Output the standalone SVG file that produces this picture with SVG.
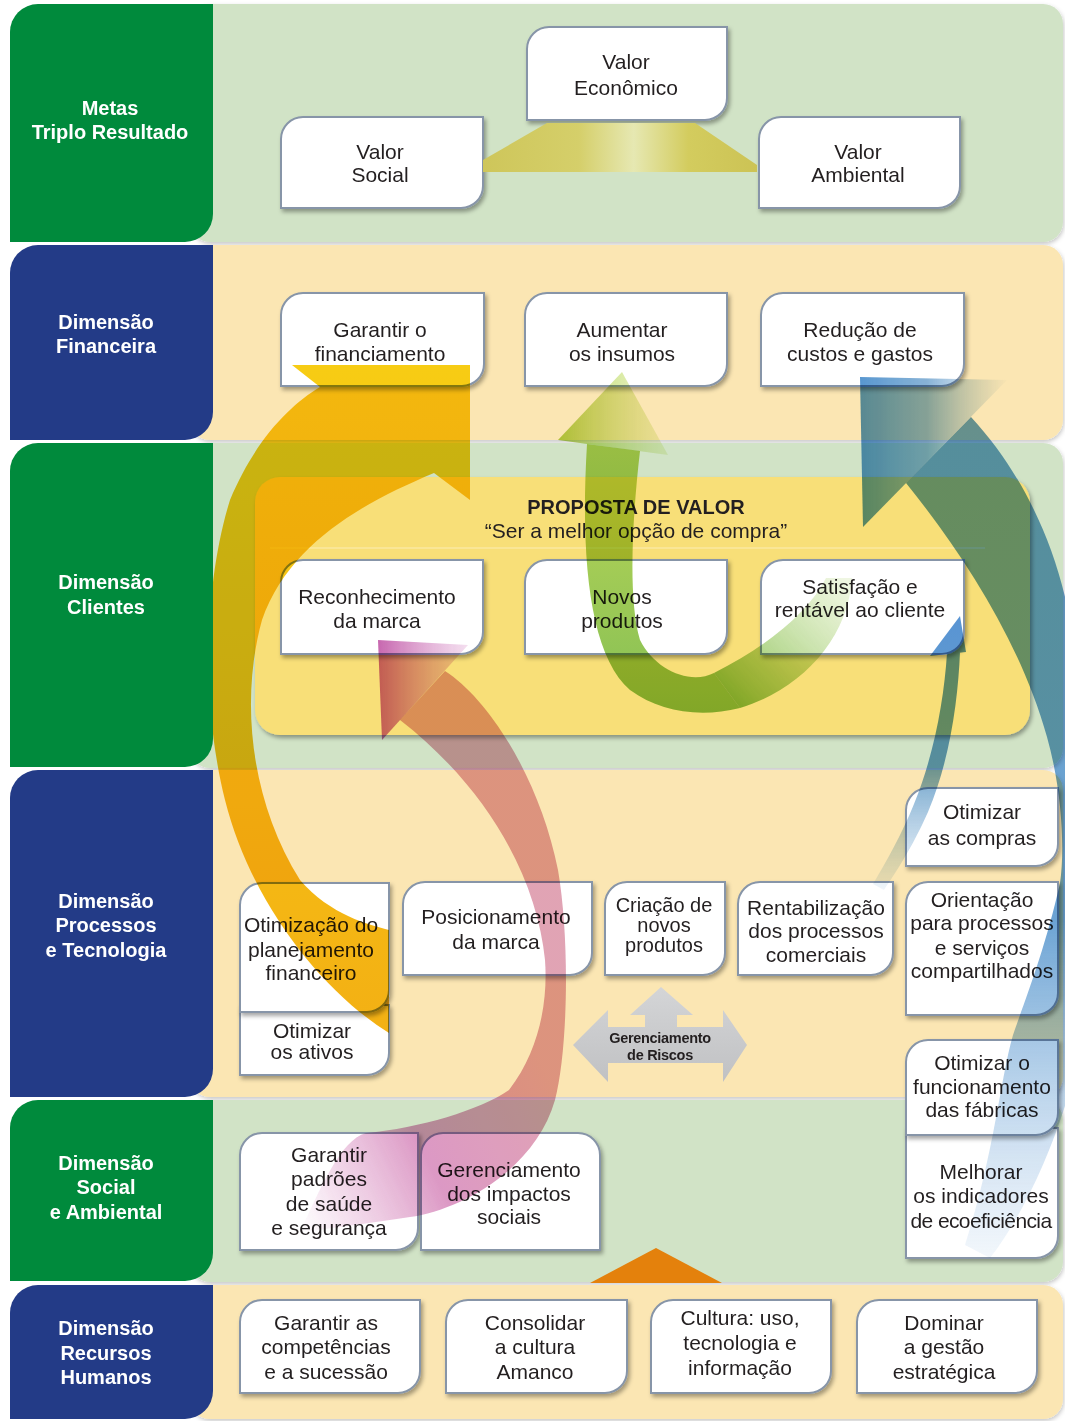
<svg xmlns="http://www.w3.org/2000/svg" width="1065" height="1421" viewBox="0 0 1065 1421">
<defs>
<filter id="sh" x="-10%" y="-10%" width="125%" height="130%"><feDropShadow dx="2" dy="3" stdDeviation="2" flood-color="#000" flood-opacity="0.35"/></filter>
<filter id="bsh" x="-5%" y="-5%" width="110%" height="115%"><feDropShadow dx="1" dy="2" stdDeviation="2" flood-color="#000" flood-opacity="0.22"/></filter>
<linearGradient id="gT" x1="483" y1="0" x2="757" y2="0" gradientUnits="userSpaceOnUse">
<stop offset="0" stop-color="#cec65a"/><stop offset="0.35" stop-color="#d5cf6a"/><stop offset="0.55" stop-color="#e6e8b2"/><stop offset="0.75" stop-color="#d3cc5e"/><stop offset="1" stop-color="#ccc355"/>
</linearGradient>
<linearGradient id="gY" x1="0" y1="365" x2="0" y2="1033" gradientUnits="userSpaceOnUse">
<stop offset="0" stop-color="#f7c800"/><stop offset="0.5" stop-color="#f5ba00"/><stop offset="1" stop-color="#f2aa00"/>
</linearGradient>
<linearGradient id="gG" x1="0" y1="372" x2="0" y2="712" gradientUnits="userSpaceOnUse">
<stop offset="0" stop-color="#c4da48"/><stop offset="1" stop-color="#7cba46"/>
</linearGradient>
<linearGradient id="gGh" x1="558" y1="0" x2="670" y2="0" gradientUnits="userSpaceOnUse">
<stop offset="0" stop-color="#a9cf3c"/><stop offset="1" stop-color="#d4e78a" stop-opacity="0.35"/>
</linearGradient>
<linearGradient id="gGt" x1="735" y1="700" x2="845" y2="580" gradientUnits="userSpaceOnUse">
<stop offset="0" stop-color="#7cba46"/><stop offset="1" stop-color="#b8d880" stop-opacity="0.25"/>
</linearGradient>
<linearGradient id="gBh" x1="860" y1="0" x2="1010" y2="0" gradientUnits="userSpaceOnUse">
<stop offset="0" stop-color="#4a8ecc"/><stop offset="0.45" stop-color="#5e98c8" stop-opacity="0.8"/><stop offset="1" stop-color="#8fb6d8" stop-opacity="0"/>
</linearGradient>
<linearGradient id="gB" x1="0" y1="420" x2="0" y2="1255" gradientUnits="userSpaceOnUse">
<stop offset="0" stop-color="#5b98c4"/><stop offset="0.6" stop-color="#5f9bd0"/><stop offset="1" stop-color="#9cc0e4" stop-opacity="0.15"/>
</linearGradient>
<linearGradient id="gBs" x1="0" y1="616" x2="0" y2="890" gradientUnits="userSpaceOnUse">
<stop offset="0" stop-color="#4a8bd0"/><stop offset="0.55" stop-color="#5e98c4"/><stop offset="1" stop-color="#a8c8e4" stop-opacity="0.2"/>
</linearGradient>
<linearGradient id="gPh" x1="378" y1="0" x2="470" y2="0" gradientUnits="userSpaceOnUse">
<stop offset="0" stop-color="#c25aa8"/><stop offset="1" stop-color="#d890c8" stop-opacity="0.3"/>
</linearGradient>
<linearGradient id="gP" x1="300" y1="1230" x2="560" y2="1100" gradientUnits="userSpaceOnUse">
<stop offset="0" stop-color="#d27ab8" stop-opacity="0"/><stop offset="0.5" stop-color="#cc6aaa" stop-opacity="0.75"/><stop offset="1" stop-color="#d27a92" stop-opacity="0.75"/>
</linearGradient>
<linearGradient id="gR" x1="0" y1="987" x2="0" y2="1082" gradientUnits="userSpaceOnUse">
<stop offset="0" stop-color="#d4d5d7"/><stop offset="1" stop-color="#c0c1c3"/>
</linearGradient>
</defs>
<style>
.bg-g{fill:#d1e3c6;filter:url(#bsh)}
.bg-y{fill:#fbe6b3;filter:url(#bsh)}
.lab-g{fill:#008a3c}
.lab-b{fill:#233b87}
.lt{font-family:"Liberation Sans",Arial,sans-serif;font-weight:bold;font-size:20px;fill:#ffffff;text-anchor:middle}
.box{fill:#ffffff;stroke:#8795a8;stroke-width:2;filter:url(#sh)}
.t{font-family:"Liberation Sans",Arial,sans-serif;font-size:21px;fill:#231f20;text-anchor:middle}
.arrow{mix-blend-mode:multiply;opacity:0.92}
</style>
<rect width="1065" height="1421" fill="#ffffff"/>

<g id="bands">
<rect class="bg-g" x="190" y="4" width="873" height="238" rx="20"/>
<rect class="bg-y" x="190" y="245" width="873" height="195" rx="20"/>
<rect class="bg-g" x="190" y="443" width="873" height="325" rx="20"/>
<rect class="bg-y" x="190" y="770" width="873" height="327" rx="20"/>
<rect class="bg-g" x="190" y="1100" width="873" height="182" rx="20"/>
<rect class="bg-y" x="190" y="1285" width="873" height="134" rx="20"/>
</g>

<g id="proposta">
<rect x="255" y="477" width="775" height="258" rx="25" fill="#f8df78" filter="url(#sh)"/>
<line x1="270" y1="548" x2="985" y2="548" stroke="#fbe9a0" stroke-width="1.5"/>
<text class="t" x="636" y="514" style="font-weight:bold;font-size:20px">PROPOSTA DE VALOR</text>
<text class="t" x="636" y="538">“Ser a melhor opção de compra”</text>
</g>

<g id="n-valor-economico"><path class="box" d="M549,27 H727 V98 A22,22 0 0 1 705,120 H527 V49 A22,22 0 0 1 549,27 Z"/><text class="t"><tspan x="626" y="69">Valor</tspan><tspan x="626" y="95">Econômico</tspan></text></g>
<g id="n-valor-social"><path class="box" d="M303,117 H483 V186 A22,22 0 0 1 461,208 H281 V139 A22,22 0 0 1 303,117 Z"/><text class="t"><tspan x="380" y="159">Valor</tspan><tspan x="380" y="182">Social</tspan></text></g>
<g id="n-valor-ambiental"><path class="box" d="M781,117 H960 V186 A22,22 0 0 1 938,208 H759 V139 A22,22 0 0 1 781,117 Z"/><text class="t"><tspan x="858" y="159">Valor</tspan><tspan x="858" y="182">Ambiental</tspan></text></g>

<g id="n-garantir-financiamento"><path class="box" d="M303,293 H484 V364 A22,22 0 0 1 462,386 H281 V315 A22,22 0 0 1 303,293 Z"/><text class="t"><tspan x="380" y="337">Garantir o</tspan><tspan x="380" y="361">financiamento</tspan></text></g>
<g id="n-aumentar-insumos"><path class="box" d="M547,293 H727 V364 A22,22 0 0 1 705,386 H525 V315 A22,22 0 0 1 547,293 Z"/><text class="t"><tspan x="622" y="337">Aumentar</tspan><tspan x="622" y="361">os insumos</tspan></text></g>
<g id="n-reducao-custos"><path class="box" d="M783,293 H964 V364 A22,22 0 0 1 942,386 H761 V315 A22,22 0 0 1 783,293 Z"/><text class="t"><tspan x="860" y="337">Redução de</tspan><tspan x="860" y="361">custos e gastos</tspan></text></g>

<g id="n-reconhecimento"><path class="box" d="M303,560 H483 V632 A22,22 0 0 1 461,654 H281 V582 A22,22 0 0 1 303,560 Z"/><text class="t"><tspan x="377" y="604">Reconhecimento</tspan><tspan x="377" y="628">da marca</tspan></text></g>
<g id="n-novos-produtos"><path class="box" d="M547,560 H727 V632 A22,22 0 0 1 705,654 H525 V582 A22,22 0 0 1 547,560 Z"/><text class="t"><tspan x="622" y="604">Novos</tspan><tspan x="622" y="628">produtos</tspan></text></g>
<g id="n-satisfacao"><path class="box" d="M783,560 H964 V632 A22,22 0 0 1 942,654 H761 V582 A22,22 0 0 1 783,560 Z"/><text class="t"><tspan x="860" y="594">Satisfação e</tspan><tspan x="860" y="617">rentável ao cliente</tspan></text></g>

<g id="n-otimizar-ativos"><path class="box" d="M240,1005 H389 V1053 A22,22 0 0 1 367,1075 H240 Z"/><text class="t"><tspan x="312" y="1038">Otimizar</tspan><tspan x="312" y="1059">os ativos</tspan></text></g>
<g id="n-otimizacao-planejamento"><path class="box" d="M262,883 H389 V990 A22,22 0 0 1 367,1012 H240 V905 A22,22 0 0 1 262,883 Z"/><text class="t"><tspan x="311" y="932">Otimização do</tspan><tspan x="311" y="957">planejamento</tspan><tspan x="311" y="980">financeiro</tspan></text></g>
<g id="n-posicionamento"><path class="box" d="M425,882 H592 V953 A22,22 0 0 1 570,975 H403 V904 A22,22 0 0 1 425,882 Z"/><text class="t"><tspan x="496" y="924">Posicionamento</tspan><tspan x="496" y="949">da marca</tspan></text></g>
<g id="n-criacao-produtos"><path class="box" d="M627,882 H725 V953 A22,22 0 0 1 703,975 H605 V904 A22,22 0 0 1 627,882 Z"/><text class="t" style="font-size:20px"><tspan x="664" y="912">Criação de</tspan><tspan x="664" y="932">novos</tspan><tspan x="664" y="952">produtos</tspan></text></g>
<g id="n-rentabilizacao"><path class="box" d="M760,882 H893 V953 A22,22 0 0 1 871,975 H738 V904 A22,22 0 0 1 760,882 Z"/><text class="t"><tspan x="816" y="915">Rentabilização</tspan><tspan x="816" y="938">dos processos</tspan><tspan x="816" y="962">comerciais</tspan></text></g>
<g id="n-otimizar-compras"><path class="box" d="M928,788 H1058 V844 A22,22 0 0 1 1036,866 H906 V810 A22,22 0 0 1 928,788 Z"/><text class="t"><tspan x="982" y="819">Otimizar</tspan><tspan x="982" y="845">as compras</tspan></text></g>
<g id="n-orientacao"><path class="box" d="M928,882 H1058 V993 A22,22 0 0 1 1036,1015 H906 V904 A22,22 0 0 1 928,882 Z"/><text class="t"><tspan x="982" y="907">Orientação</tspan><tspan x="982" y="930">para processos</tspan><tspan x="982" y="955">e serviços</tspan><tspan x="982" y="978">compartilhados</tspan></text></g>
<g id="n-melhorar-indicadores"><path class="box" d="M906,1128 H1058 V1236 A22,22 0 0 1 1036,1258 H906 Z"/><text class="t"><tspan x="981" y="1179">Melhorar</tspan><tspan x="981" y="1203">os indicadores</tspan><tspan x="981" y="1228" letter-spacing="-0.6">de ecoeficiência</tspan></text></g>
<g id="n-otimizar-fabricas"><path class="box" d="M928,1040 H1058 V1113 A22,22 0 0 1 1036,1135 H906 V1062 A22,22 0 0 1 928,1040 Z"/><text class="t"><tspan x="982" y="1070">Otimizar o</tspan><tspan x="982" y="1094">funcionamento</tspan><tspan x="982" y="1117">das fábricas</tspan></text></g>

<g id="n-garantir-padroes"><path class="box" d="M262,1133 H418 V1228 A22,22 0 0 1 396,1250 H240 V1155 A22,22 0 0 1 262,1133 Z"/><text class="t"><tspan x="329" y="1162">Garantir</tspan><tspan x="329" y="1186">padrões</tspan><tspan x="329" y="1211">de saúde</tspan><tspan x="329" y="1235">e segurança</tspan></text></g>
<g id="n-gerenciamento-impactos"><path class="box" d="M443,1133 H578 A22,22 0 0 1 600,1155 V1250 H421 V1155 A22,22 0 0 1 443,1133 Z"/><text class="t"><tspan x="509" y="1177">Gerenciamento</tspan><tspan x="509" y="1201">dos impactos</tspan><tspan x="509" y="1224">sociais</tspan></text></g>

<g id="n-garantir-competencias"><path class="box" d="M262,1300 H420 V1371 A22,22 0 0 1 398,1393 H240 V1322 A22,22 0 0 1 262,1300 Z"/><text class="t"><tspan x="326" y="1330">Garantir as</tspan><tspan x="326" y="1354">competências</tspan><tspan x="326" y="1379">e a sucessão</tspan></text></g>
<g id="n-consolidar-cultura"><path class="box" d="M468,1300 H627 V1371 A22,22 0 0 1 605,1393 H446 V1322 A22,22 0 0 1 468,1300 Z"/><text class="t"><tspan x="535" y="1330">Consolidar</tspan><tspan x="535" y="1354">a cultura</tspan><tspan x="535" y="1379">Amanco</tspan></text></g>
<g id="n-cultura-uso"><path class="box" d="M673,1300 H831 V1371 A22,22 0 0 1 809,1393 H651 V1322 A22,22 0 0 1 673,1300 Z"/><text class="t"><tspan x="740" y="1325">Cultura: uso,</tspan><tspan x="740" y="1350">tecnologia e</tspan><tspan x="740" y="1375">informação</tspan></text></g>
<g id="n-dominar-gestao"><path class="box" d="M879,1300 H1037 V1371 A22,22 0 0 1 1015,1393 H857 V1322 A22,22 0 0 1 879,1300 Z"/><text class="t"><tspan x="944" y="1330">Dominar</tspan><tspan x="944" y="1354">a gestão</tspan><tspan x="944" y="1379">estratégica</tspan></text></g>

<g id="n-gerenciamento-riscos">
<path d="M573,1045 L608,1010 L608,1027 L645,1027 L645,1015 L630,1015 L661,987 L693,1015 L677,1015 L677,1027 L723,1027 L723,1010 L747,1045 L723,1082 L723,1063 L608,1063 L608,1082 Z" fill="url(#gR)"/>
<text class="t" style="font-size:14.5px;font-weight:bold;letter-spacing:-0.3px"><tspan x="660" y="1043">Gerenciamento</tspan><tspan x="660" y="1060">de Riscos</tspan></text>
</g>

<g id="connectors">
<polygon points="483,160 547,123 695,123 757,165 757,172 483,172" fill="url(#gT)"/>
<polygon points="590,1283 656,1248 722,1283" fill="#e4810c"/>
<path class="arrow" fill="url(#gY)" d="M470,365 L470,500 L434,473 C370,500 290,540 262,620 C240,700 250,800 300,880 C330,915 370,925 389,930 L389,1033 C320,990 250,900 225,800 C200,700 205,580 230,500 C255,440 290,405 320,387 L292,365 Z"/>
<path class="arrow" fill="url(#gGh)" d="M622,372 L668,455 L558,440 Z"/>
<path class="arrow" fill="url(#gG)" d="M587,444 L640,451 C632,520 628,600 640,640 C655,670 690,685 714,673 L740,708 C700,718 660,712 630,690 C590,655 580,560 587,444 Z"/>
<path class="arrow" fill="url(#gGt)" d="M714,673 C770,645 810,610 826,578 L852,578 C848,640 800,690 740,708 Z"/>
<path class="arrow" fill="url(#gBh)" d="M860,377 L1007,380 L863,527 Z"/>
<path class="arrow" fill="url(#gB)" d="M971,417 C1020,470 1055,540 1070,620 L1090,1000 C1075,1100 1035,1200 990,1258 L965,1245 C995,1150 1000,1080 1013,1035 C1025,1000 1045,950 1060,883 C1065,850 1062,790 1047,737 C1020,640 960,550 906,483 Z"/>
<path class="arrow" fill="url(#gBs)" d="M960,616 L966,652 L930,656 Z M947,653 L960,652 C958,700 950,760 928,812 C912,848 896,872 884,890 L873,884 C886,862 902,834 914,804 C934,755 944,700 947,653 Z"/>
<path class="arrow" fill="url(#gPh)" d="M378,640 L468,645 L382,740 Z"/>
<path class="arrow" fill="url(#gP)" d="M445,671 C490,700 540,780 558,870 C570,940 568,1050 555,1100 C535,1170 460,1210 410,1217 C375,1222 335,1228 300,1232 C320,1190 340,1140 366,1133 C420,1128 480,1110 509,1090 C540,1050 548,1000 545,960 C537,880 490,790 400,720 Z"/>
</g>

<g id="lbl-metas"><path class="lab-g" d="M38,4 H213 V214 A28,28 0 0 1 185,242 H10 V32 A28,28 0 0 1 38,4 Z"/><text class="lt"><tspan x="110" y="115">Metas</tspan><tspan x="110" y="139">Triplo Resultado</tspan></text></g>
<g id="lbl-financeira"><path class="lab-b" d="M38,245 H213 V412 A28,28 0 0 1 185,440 H10 V273 A28,28 0 0 1 38,245 Z"/><text class="lt"><tspan x="106" y="329">Dimensão</tspan><tspan x="106" y="353">Financeira</tspan></text></g>
<g id="lbl-clientes"><path class="lab-g" d="M38,443 H213 V739 A28,28 0 0 1 185,767 H10 V471 A28,28 0 0 1 38,443 Z"/><text class="lt"><tspan x="106" y="589">Dimensão</tspan><tspan x="106" y="614">Clientes</tspan></text></g>
<g id="lbl-processos"><path class="lab-b" d="M38,770 H213 V1069 A28,28 0 0 1 185,1097 H10 V798 A28,28 0 0 1 38,770 Z"/><text class="lt"><tspan x="106" y="908">Dimensão</tspan><tspan x="106" y="932">Processos</tspan><tspan x="106" y="957">e Tecnologia</tspan></text></g>
<g id="lbl-social"><path class="lab-g" d="M38,1100 H213 V1253 A28,28 0 0 1 185,1281 H10 V1128 A28,28 0 0 1 38,1100 Z"/><text class="lt"><tspan x="106" y="1170">Dimensão</tspan><tspan x="106" y="1194">Social</tspan><tspan x="106" y="1219">e Ambiental</tspan></text></g>
<g id="lbl-rh"><path class="lab-b" d="M38,1285 H213 V1391 A28,28 0 0 1 185,1419 H10 V1313 A28,28 0 0 1 38,1285 Z"/><text class="lt"><tspan x="106" y="1335">Dimensão</tspan><tspan x="106" y="1360">Recursos</tspan><tspan x="106" y="1384">Humanos</tspan></text></g>
</svg>
